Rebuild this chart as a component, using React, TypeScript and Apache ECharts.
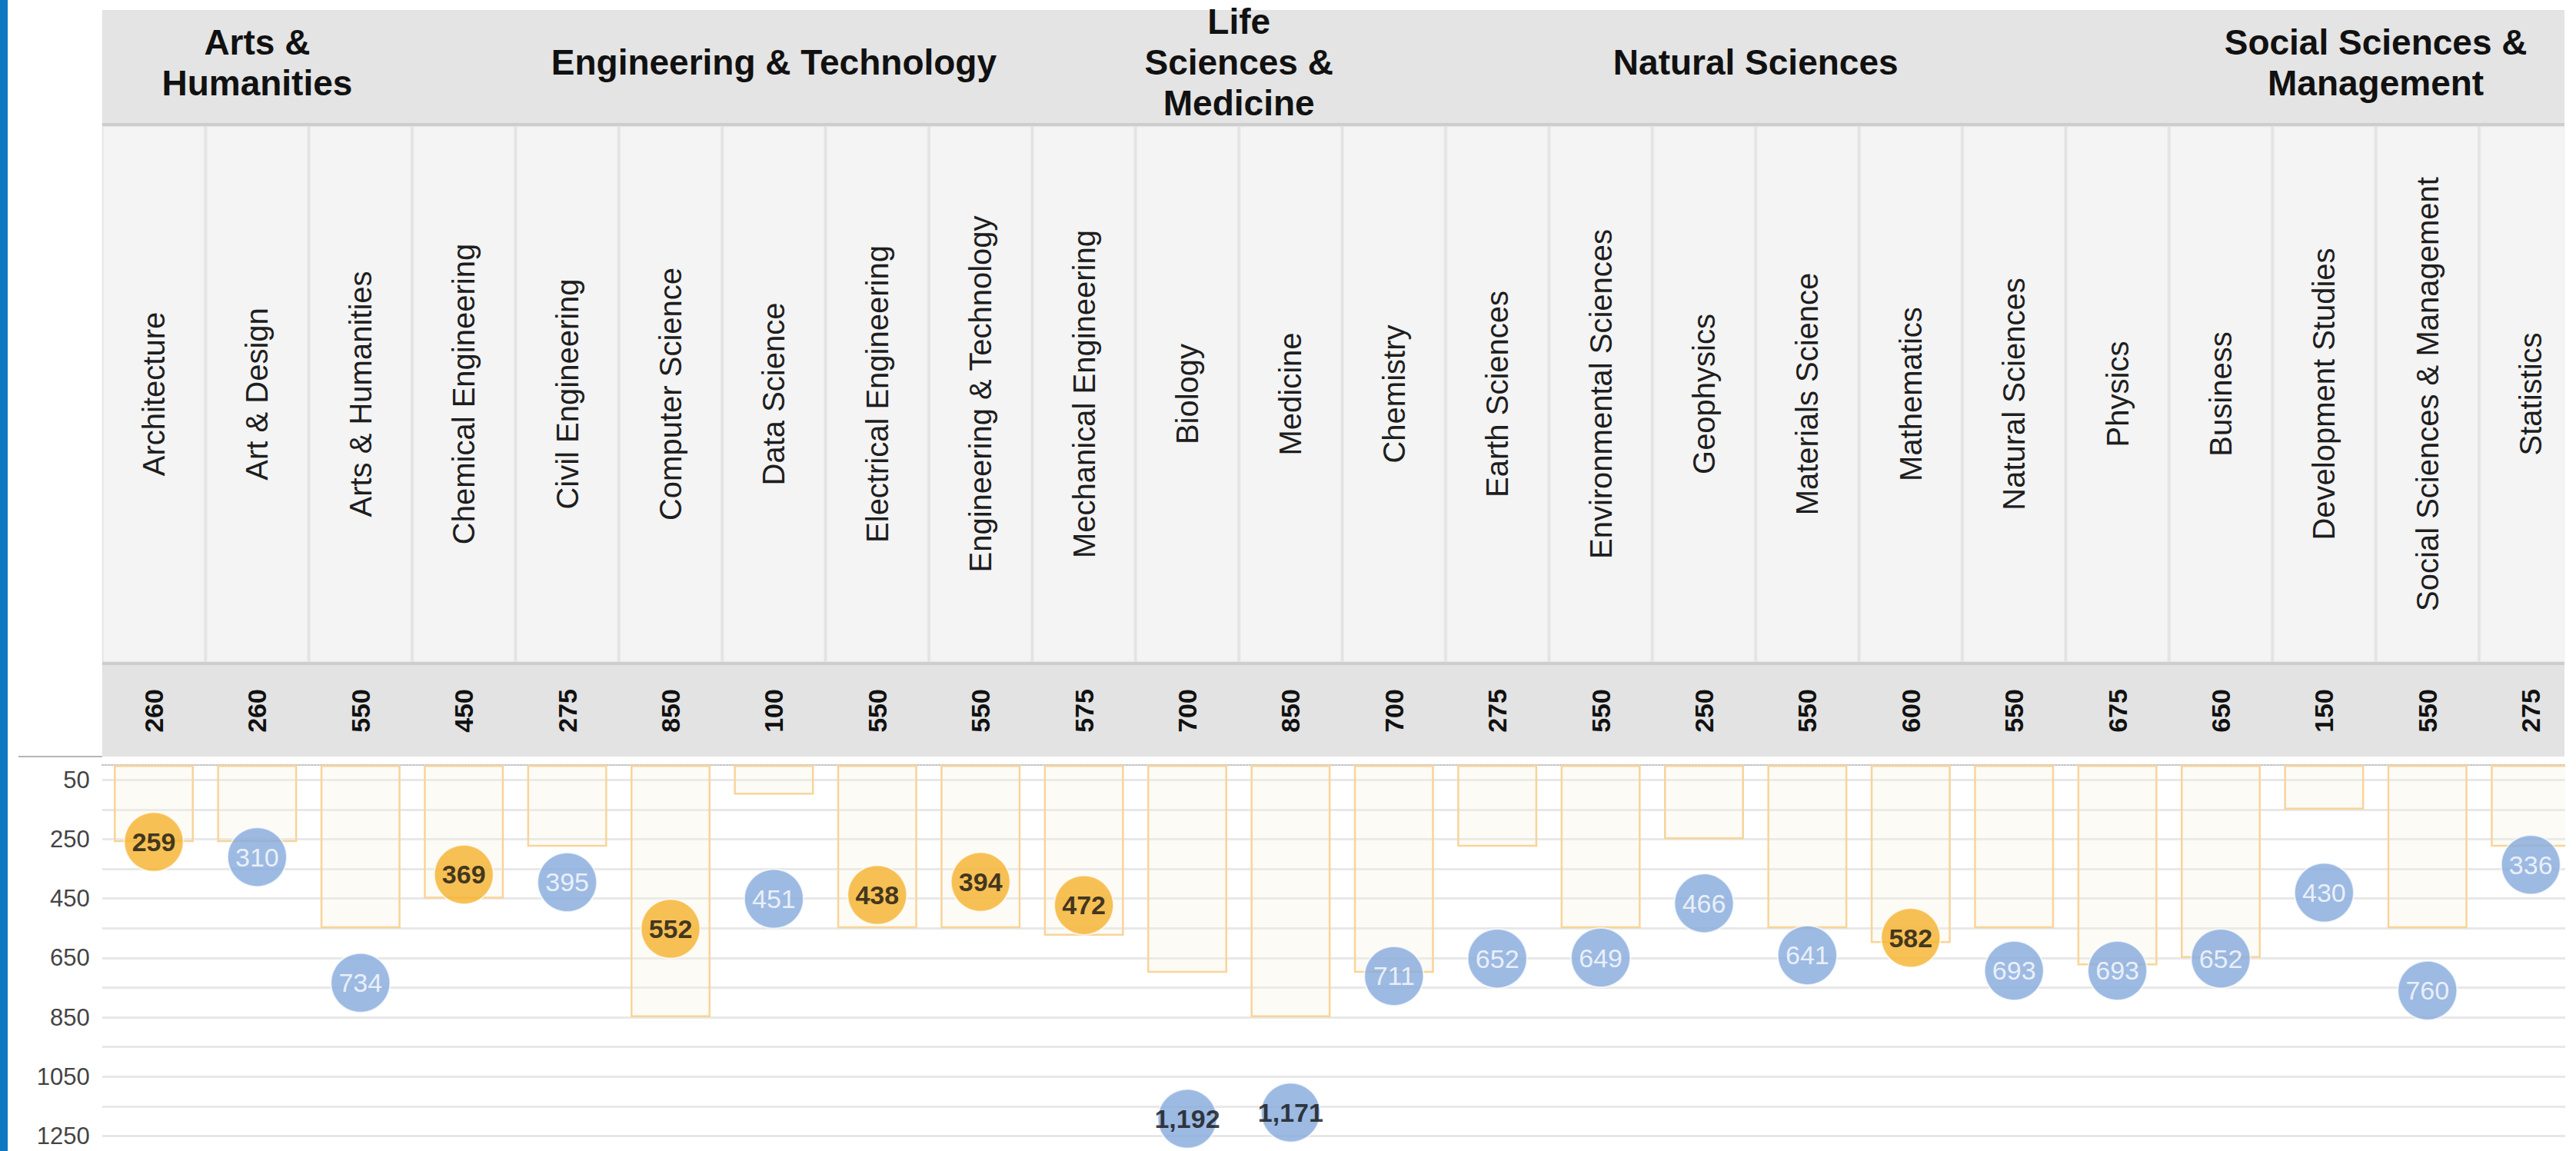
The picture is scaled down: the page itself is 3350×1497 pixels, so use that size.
import React, { useEffect, useRef } from 'react';
import * as echarts from 'echarts';

// ---------------- data ----------------
const categories = [
  'Architecture', 'Art & Design', 'Arts & Humanities', 'Chemical Engineering', 'Civil Engineering',
  'Computer Science', 'Data Science', 'Electrical Engineering', 'Engineering & Technology',
  'Mechanical Engineering', 'Biology', 'Medicine', 'Chemistry', 'Earth Sciences',
  'Environmental Sciences', 'Geophysics', 'Materials Science', 'Mathematics', 'Natural Sciences',
  'Physics', 'Business', 'Development Studies', 'Social Sciences & Management', 'Statistics',
];
const thresholds = [260, 260, 550, 450, 275, 850, 100, 550, 550, 575, 700, 850, 700, 275, 550, 250, 550, 600, 550, 675, 650, 150, 550, 275];
const scores = [259, 310, 734, 369, 395, 552, 451, 438, 394, 472, 1192, 1171, 711, 652, 649, 466, 641, 582, 693, 693, 652, 430, 760, 336];
const groupNames = ['Arts &\nHumanities', 'Engineering & Technology', 'Life\nSciences &\nMedicine', 'Natural Sciences', 'Social Sciences &\nManagement'];
const groupSizes = [3, 7, 2, 8, 4];
const yTickLabels = [50, 250, 450, 650, 850, 1050, 1250];

// ---------------- layout ----------------
const W = 3350;
const H = 1497;
const GRID_LEFT = 132.8;
const BAND = 134.4;
const GRID_WIDTH = BAND * categories.length;
const ZERO_Y = 995;
const PX = 0.386;
const Y_MIN = -50;
const Y_MAX = 1350;
const GRID_TOP = ZERO_Y + Y_MIN * PX;
const GRID_H = (Y_MAX - Y_MIN) * PX;
const HEADER_RIGHT = 3335;
const GROUP_TOP = 13;
const GROUP_BOTTOM = 160;
const CAT_TOP = 164;
const CAT_BOTTOM = 861;
const VAL_TOP = 865;
const VAL_BOTTOM = 984;

const FONT = '"Liberation Sans", Arial, sans-serif';
const NARROW = '"Liberation Sans Narrow", "Arial Narrow", "Liberation Sans", Arial, sans-serif';
const ORANGE = '#f5b12c';
const BLUE = '#84a9dc';

const fmt = (n: number) => n.toLocaleString('en-US');

function buildGraphic() {
  const els: any[] = [];
  // left blue stripe
  els.push({ type: 'rect', z: 300, shape: { x: 0, y: 0, width: 10, height: H }, style: { fill: '#0f78c0' } });
  // group header row
  els.push({ type: 'rect', z: -1, shape: { x: GRID_LEFT, y: GROUP_TOP, width: HEADER_RIGHT - GRID_LEFT, height: GROUP_BOTTOM - GROUP_TOP }, style: { fill: '#e4e4e4' } });
  els.push({ type: 'rect', z: -1, shape: { x: GRID_LEFT, y: GROUP_BOTTOM, width: HEADER_RIGHT - GRID_LEFT, height: CAT_TOP - GROUP_BOTTOM }, style: { fill: '#cdcdcd' } });
  // category row
  els.push({ type: 'rect', z: -1, shape: { x: GRID_LEFT, y: CAT_TOP, width: HEADER_RIGHT - GRID_LEFT, height: CAT_BOTTOM - CAT_TOP }, style: { fill: '#e3e3e3' } });
  categories.forEach((_, i) => {
    els.push({
      type: 'rect', z: -1,
      shape: { x: GRID_LEFT + i * BAND + 2, y: CAT_TOP + 1, width: BAND - 4, height: CAT_BOTTOM - CAT_TOP - 2 },
      style: { fill: '#f4f4f4', stroke: '#ededed', lineWidth: 1 },
    });
  });
  els.push({ type: 'rect', z: -1, shape: { x: GRID_LEFT, y: CAT_BOTTOM, width: HEADER_RIGHT - GRID_LEFT, height: VAL_TOP - CAT_BOTTOM }, style: { fill: '#cdcdcd' } });
  // value row
  els.push({ type: 'rect', z: -1, shape: { x: GRID_LEFT, y: VAL_TOP, width: HEADER_RIGHT - GRID_LEFT, height: VAL_BOTTOM - VAL_TOP }, style: { fill: '#e3e3e3' } });
  // left rule under empty corner
  els.push({ type: 'line', z: -1, shape: { x1: 24, y1: VAL_BOTTOM, x2: GRID_LEFT, y2: VAL_BOTTOM }, style: { stroke: '#b4b4b4', lineWidth: 2 } });
  // group titles
  let start = 0;
  groupNames.forEach((name, gi) => {
    const cx = GRID_LEFT + BAND * (start + groupSizes[gi] / 2);
    els.push({
      type: 'text', z: 5, x: cx, y: 81,
      style: {
        text: name, font: `bold 46px ${FONT}`, fill: '#111',
        textAlign: 'center', textVerticalAlign: 'middle', align: 'center', verticalAlign: 'middle', lineHeight: 53,
      },
    });
    start += groupSizes[gi];
  });
  // right-edge crop
  els.push({ type: 'rect', z: 300, shape: { x: HEADER_RIGHT + 1, y: 0, width: 40, height: H }, style: { fill: '#ffffff' } });
  return els;
}

function buildOption(): any {
  const scatterData = scores.map((s, i) => {
    const under = s <= thresholds[i];
    const dark = under || s >= 1000;
    return {
      value: s,
      itemStyle: { color: under ? ORANGE : BLUE },
      label: { color: dark ? '#111' : '#ffffff', fontWeight: dark ? 'bold' : 'normal' },
    };
  });

  return {
    animation: false,
    backgroundColor: '#ffffff',
    textStyle: { fontFamily: FONT },
    grid: {
      left: GRID_LEFT,
      top: GRID_TOP,
      width: GRID_WIDTH,
      height: GRID_H,
      containLabel: false,
      outerBoundsMode: 'none',
    },
    xAxis: [
      {
        type: 'category', data: categories, position: 'top',
        axisLine: { show: true, onZero: true, lineStyle: { color: '#c4c4c4', type: 'dotted', width: 2 } },
        axisTick: { show: false }, axisLabel: { show: false }, splitLine: { show: false },
      },
      {
        type: 'category', data: categories, position: 'top', offset: GRID_TOP - (CAT_TOP + CAT_BOTTOM) / 2,
        axisLine: { show: false, onZero: false }, axisTick: { show: false }, splitLine: { show: false },
        axisLabel: {
          show: true, interval: 0, rotate: -90, margin: 0, align: 'center', verticalAlign: 'middle',
          fontSize: 40, color: '#1e1e1e', fontFamily: FONT,
        },
      },
      {
        type: 'category', data: categories, position: 'top', offset: GRID_TOP - (VAL_TOP + VAL_BOTTOM) / 2,
        axisLine: { show: false, onZero: false }, axisTick: { show: false }, splitLine: { show: false },
        axisLabel: {
          show: true, interval: 0, rotate: -90, margin: 0, align: 'center', verticalAlign: 'middle',
          fontSize: 34, fontWeight: 'bold', color: '#111', fontFamily: FONT,
          formatter: (_v: string, idx: number) => String(thresholds[idx]),
        },
      },
    ],
    yAxis: {
      type: 'value', inverse: true, min: Y_MIN, max: Y_MAX, interval: 100,
      axisLine: { show: false }, axisTick: { show: false },
      axisLabel: {
        fontSize: 31, lineHeight: 28, color: '#444', margin: 16, fontFamily: FONT,
        formatter: (v: number) => (yTickLabels.includes(Math.round(v)) ? String(Math.round(v)) : ''),
      },
      splitLine: { show: true, showMinLine: false, showMaxLine: false, lineStyle: { color: '#e8e8e8', width: 3 } },
    },
    graphic: { elements: buildGraphic() },
    series: [
      {
        type: 'bar', xAxisIndex: 0, yAxisIndex: 0, data: thresholds, barWidth: 104, z: 2,
        itemStyle: { color: 'rgba(245,238,215,0.25)', borderColor: '#f8d49a', borderWidth: 2.5 },
        emphasis: { disabled: true }, silent: true,
      },
      {
        type: 'scatter', xAxisIndex: 0, yAxisIndex: 0, data: scatterData, symbolSize: 77, z: 3,
        itemStyle: { borderColor: 'rgba(255,255,255,0.85)', borderWidth: 2 },
        label: {
          show: true, position: 'inside', fontSize: 34, fontFamily: NARROW,
          formatter: (p: any) => fmt(p.value),
        },
        emphasis: { disabled: true }, silent: true,
      },
    ],
  };
}

export default function App() {
  const ref = useRef<HTMLDivElement>(null);
  useEffect(() => {
    if (!ref.current) return;
    const chart = echarts.init(ref.current, null, { renderer: 'svg', width: W, height: H });
    chart.setOption(buildOption());
    return () => chart.dispose();
  }, []);
  return (
    <div
      ref={ref}
      style={{ position: 'absolute', left: 0, top: 0, width: W, height: H, background: '#fff', overflow: 'hidden' }}
    />
  );
}
